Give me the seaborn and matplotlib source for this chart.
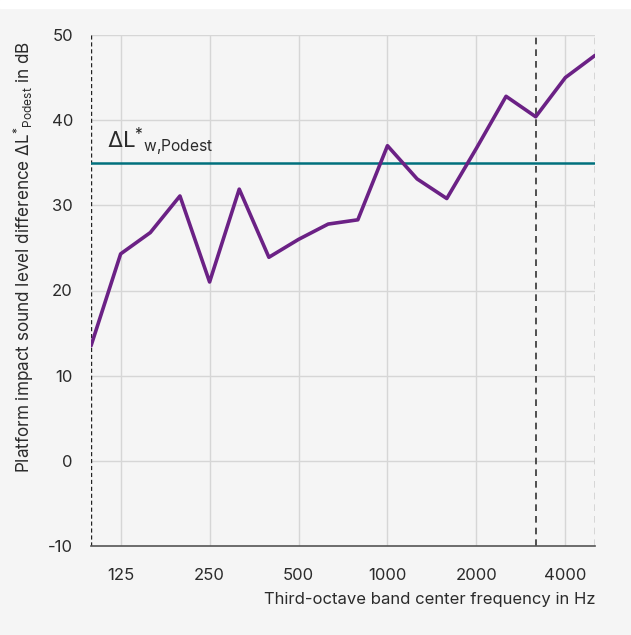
import numpy as np
import pandas as pd
import seaborn as sns
import matplotlib.pyplot as plt

# Terzband-Mittenfrequenzen und Messwerte
freqs = [100, 125, 160, 200, 250, 315, 400, 500, 630, 800,
         1000, 1250, 1600, 2000, 2500, 3150, 4000, 5000]
delta_l = [13.5, 24.3, 26.8, 31.1, 21.0, 31.9, 23.9, 26.0, 27.8, 28.3,
           37.0, 33.1, 30.8, 36.7, 42.8, 40.4, 45.0, 47.6]
tick_labels = ["125", "250", "500", "1000", "2000", "4000"]
y_ticks = [-10, 0, 10, 20, 30, 40, 50]
weighted_value = 35.0

bg = "#f5f5f5"
txt = "#2b2b2b"

sns.set_theme(style="white")
plt.rcParams["font.family"] = ["Inter", "DejaVu Sans"]
plt.rcParams["mathtext.fontset"] = "custom"
plt.rcParams["mathtext.rm"] = "Inter"
plt.rcParams["mathtext.it"] = "Inter"
plt.rcParams["axes.unicode_minus"] = False

df = pd.DataFrame({"freq": freqs, "dl": delta_l})
df["pos"] = np.arange(len(df))

fig = plt.figure(figsize=(6.31, 6.35), dpi=100, facecolor=bg)
fig.patches.append(plt.Rectangle((0, 1 - 8 / 635), 1, 8 / 635, transform=fig.transFigure,
                                 color="white", zorder=-1))
ax = fig.add_axes([91 / 631, 1 - 546 / 635, (595 - 91) / 631, (546 - 35) / 635])
ax.set_facecolor(bg)

# Raster
tick_pos = [df.loc[df["freq"] == int(t), "pos"].iloc[0] for t in tick_labels]
for p in tick_pos:
    ax.axvline(p, color="#d6d6d6", lw=1, zorder=0)
for y in y_ticks[1:]:
    ax.axhline(y, color="#d6d6d6", lw=1, zorder=0)

# Bewertungsbereich
ax.axvline(df["pos"].iloc[0], color="#222222", lw=1, ls=(0, (3, 2)), zorder=1)
ax.axvline(df.loc[df["freq"] == 3150, "pos"].iloc[0], color="#333333", lw=1.2, ls=(0, (4, 3)), zorder=1)
ax.axvline(df["pos"].iloc[-1], color="#d0d0d0", lw=1.2, ls=(0, (4, 3)), zorder=1)

ax.axhline(weighted_value, color="#00707d", lw=1.8, zorder=2)
sns.lineplot(data=df, x="pos", y="dl", ax=ax, color="#6b2185", lw=2.6, zorder=3)

ax.text(0.55, weighted_value + 0.7, r"$Δ\mathrm{L}^{*}{}_{\mathrm{w{,}Podest}}$",
        fontsize=16, color=txt, va="bottom", ha="left")

ax.set_xlim(df["pos"].iloc[0], df["pos"].iloc[-1])
ax.set_ylim(-10, 50)
ax.set_xticks(tick_pos)
ax.set_xticklabels(tick_labels)
ax.set_yticks(y_ticks)
ax.tick_params(axis="x", length=0, pad=16, labelsize=12, colors=txt)
ax.tick_params(axis="y", length=0, pad=13, labelsize=12, colors=txt)

for s in ["top", "right", "left"]:
    ax.spines[s].set_visible(False)
ax.spines["bottom"].set_color("#555555")
ax.spines["bottom"].set_linewidth(1.2)

ax.set_xlabel("Third-octave band center frequency in Hz", fontsize=12, color=txt)
ax.xaxis.set_label_coords(1.0, -0.09)
ax.xaxis.label.set_ha("right")
ax.set_ylabel(r"Platform impact sound level difference $Δ\mathrm{L}^{*}{}_{\mathrm{Podest}}$ in dB",
              fontsize=12.3, color=txt)
ax.yaxis.set_label_coords(-0.11, 0.565)

fig.savefig("out.png", dpi=100, facecolor=bg)
